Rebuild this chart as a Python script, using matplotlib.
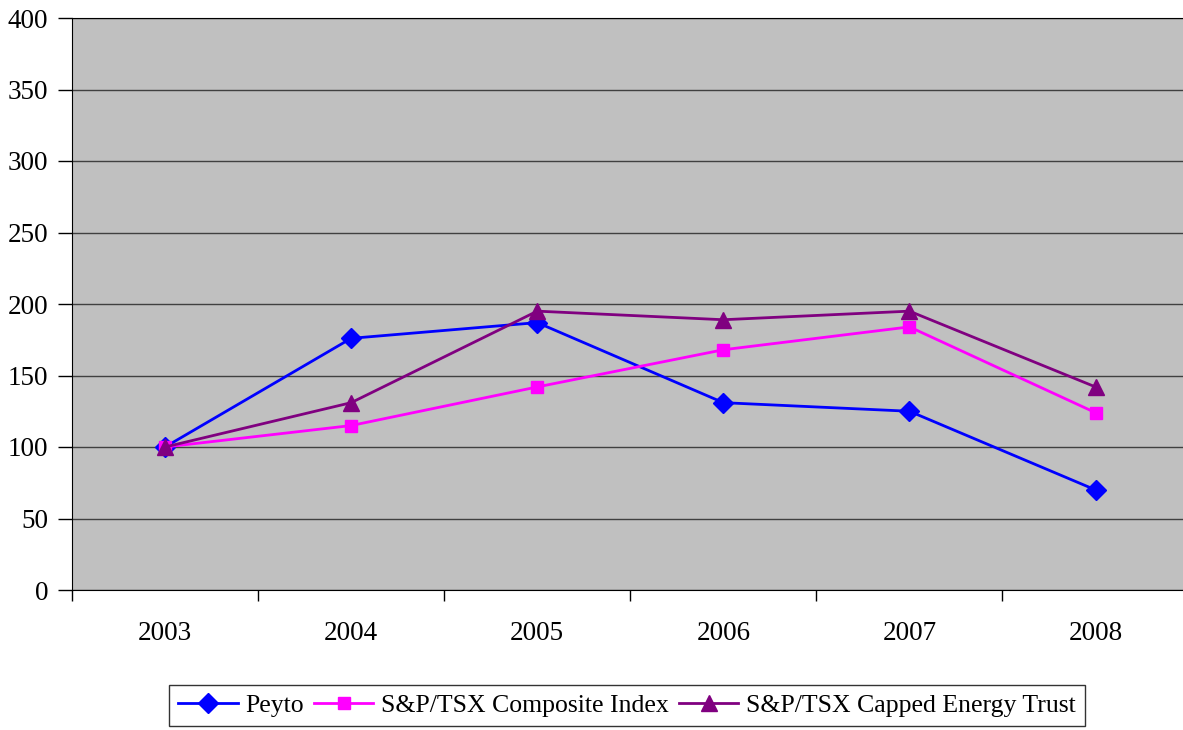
import matplotlib.pyplot as plt
import numpy as np

years = ["2003", "2004", "2005", "2006", "2007", "2008"]
peyto = [100, 176, 187, 131, 125, 70]
composite = [100, 115, 142, 168, 184, 124]
energy_trust = [100, 131, 195, 189, 195, 142]

plt.rcParams['font.family'] = ['Liberation Serif', 'DejaVu Serif']

fig = plt.figure(figsize=(11.83, 7.30), dpi=100)
ax = fig.add_axes([72 / 1183, 140 / 730, 1 - 72 / 1183, 572 / 730])
ax.set_facecolor("#c0c0c0")

x = np.arange(len(years))
ax.plot(x, peyto, color="#0000ff", lw=2, marker="D", ms=10, label="Peyto")
ax.plot(x, composite, color="#ff00ff", lw=2, marker="s", ms=9,
        label="S&P/TSX Composite Index")
ax.plot(x, energy_trust, color="#800080", lw=2, marker="^", ms=11,
        label="S&P/TSX Capped Energy Trust")

ax.set_ylim(0, 400)
ax.set_yticks(range(0, 401, 50))
ax.set_xlim(-0.5, 5.47)
ax.set_xticks(x)
ax.set_xticklabels(years)
ax.set_xticks(np.arange(-0.5, 5.5, 1), minor=True)
ax.tick_params(axis="x", which="major", length=0, pad=22, labelsize=19.5)
ax.tick_params(axis="x", which="minor", length=8, width=1, color="black")
ax.tick_params(axis="y", length=10, width=1, labelsize=19.5, pad=7)
ax.grid(axis="y", color="#404040", lw=1)
ax.set_axisbelow(True)

ax.spines["right"].set_visible(False)
ax.spines["top"].set_color("black")

leg = fig.legend(loc="center", bbox_to_anchor=(0.530, 0.034), ncol=3,
                 fontsize=18.5, frameon=True, fancybox=False, edgecolor="black",
                 handlelength=2.3, columnspacing=0.4, handletextpad=0.3,
                 borderpad=0.35, borderaxespad=0)
leg.get_frame().set_linewidth(1)

fig.savefig("out.png", dpi=100)
